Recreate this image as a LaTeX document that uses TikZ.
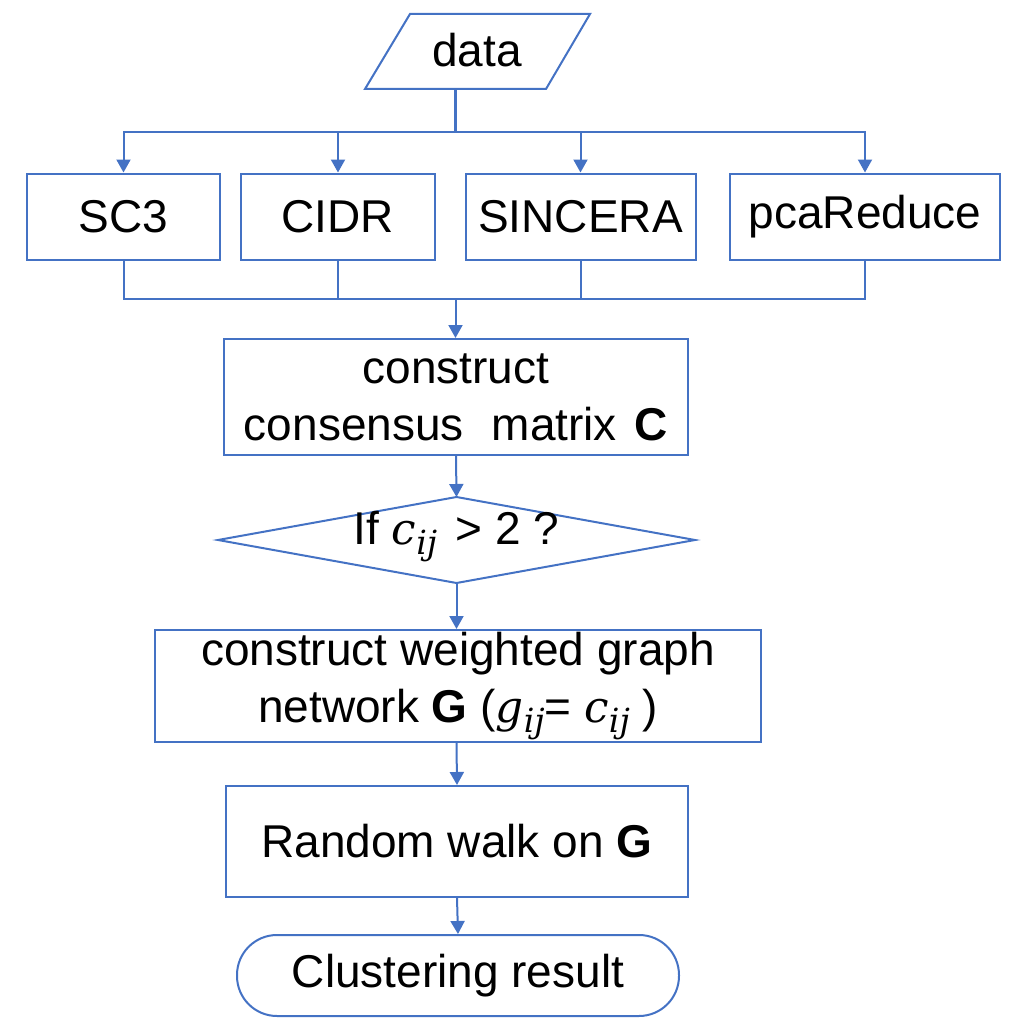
\documentclass[tikz,border=0pt]{standalone}
\usepackage{fontspec}
\setmainfont{Liberation Sans}
\newfontfamily\mvar{DejaVu Serif}[Scale=0.95]
\newcommand{\mysub}[2]{{\mvar\itshape #1}\raisebox{-10pt}{\fontsize{35}{35}\mvar\itshape #2}}
\usetikzlibrary{arrows.meta}
\definecolor{ln}{HTML}{4472C4}
\begin{document}
\begin{tikzpicture}[x=1pt,y=-1pt,
  every node/.style={font=\fontsize{46}{57}\selectfont, align=center},
  boxst/.style={draw=ln, line width=2pt, inner sep=0pt, text=black},
  conn/.style={draw=ln, line width=2pt},
  arr/.style={conn, -{Triangle[length=13pt,width=14pt]}}]
\useasboundingbox (0,0) rectangle (1029,1025);

% data (parallelogram)
\draw[conn] (365,89) -- (546,89) -- (590,14) -- (410,14) -- cycle;
\node (data) at (477,50) {data};
\coordinate (dataout) at (455.5,89);
\coordinate (split) at (455.5,131.5);

% methods
\node[boxst, minimum width=193pt, minimum height=86pt] (sc3) at (123.5,216.5) {SC3};
\node[boxst, minimum width=194pt, minimum height=86pt] (cidr) at (338,216.5) {CIDR};
\node[boxst, minimum width=230pt, minimum height=86pt] (sinc) at (580.5,216.5) {SINCERA};
\node[boxst, minimum width=270pt, minimum height=86pt] (pca) at (865,216.5) {pcaReduce};
\coordinate (merge) at (455.5,298.5);

% consensus
\node[boxst, minimum width=464pt, minimum height=116pt] (cons) at (456,397)
  {construct\\consensus\hspace{28pt}matrix\hspace{5pt} \textbf{C}};

% decision
\draw[conn] (218,540) -- (456.5,497) -- (695,540) -- (456.5,583) -- cycle;
\node (dia) at (456.5,537) {If \mysub{c}{ij}\hspace{6pt} > 2 ?};
\coordinate (dian) at (456.5,497);
\coordinate (dias) at (456.5,583);

% weighted graph
\node[boxst, minimum width=606pt, minimum height=112pt] (wgt) at (458,686)
  {construct weighted graph\\network \textbf{G} (\mysub{g}{ij}= \mysub{c}{ij} )};

% random walk
\node[boxst, minimum width=462pt, minimum height=111pt] (rw) at (457,841.5)
  {Random walk on \textbf{G}};

% result
\node[boxst, minimum width=442pt, minimum height=81pt, rounded corners=40pt] (cl) at (458,975.5)
  {Clustering result};

% connectors
\draw[conn, line width=2.5pt] (dataout) -- (split);
\draw[arr] (split) -| (sc3.north);
\draw[arr] (split) -| (cidr.north);
\draw[arr] (split) -| (sinc.north);
\draw[arr] (split) -| (pca.north);
\draw[conn] (sc3.south) |- (merge);
\draw[conn] (cidr.south) |- (merge);
\draw[conn] (sinc.south) |- (merge);
\draw[conn] (pca.south) |- (merge);
\draw[arr] (merge) -- (merge |- cons.north);
\draw[arr] (cons.south) -- (dian);
\draw[arr] (dias) -- (dias |- wgt.north);
\draw[arr] (dias |- wgt.south) -- (rw.north);
\draw[arr] (rw.south) -- (cl.north);
\end{tikzpicture}
\end{document}
